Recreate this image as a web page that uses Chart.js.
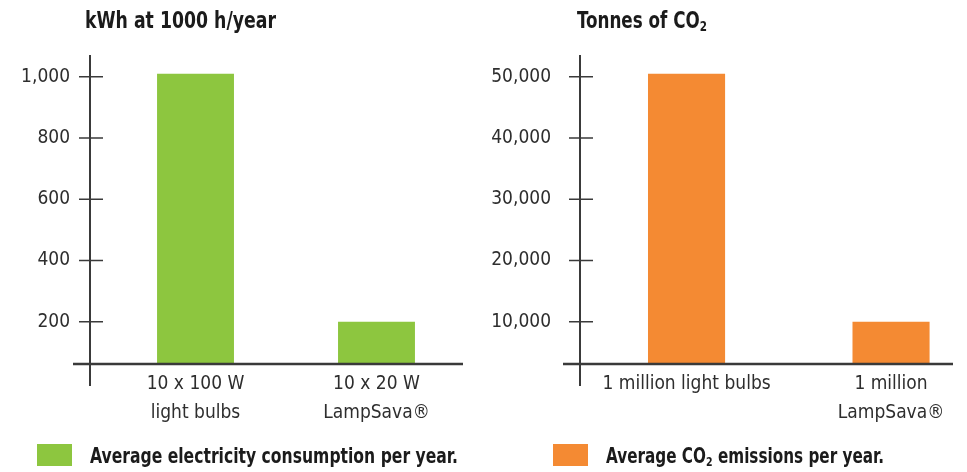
<!DOCTYPE html>
<html>
<head>
<meta charset="utf-8">
<script src="https://cdn.jsdelivr.net/npm/chart.js@4.4.1/dist/chart.umd.min.js"></script>
<style>
  html, body { margin: 0; padding: 0; background: #ffffff; }
  body { width: 967px; height: 472px; position: relative; overflow: hidden;
         font-family: "DejaVu Sans Condensed", "DejaVu Sans", sans-serif; }
  .panel { position: absolute; top: 0; height: 472px; }
  #leftPanel { left: 0; width: 480px; }
  #rightPanel { left: 480px; width: 487px; }
  .fit { position: absolute; font-weight: bold; line-height: 1; color: #1b1b1b; white-space: nowrap; transform-origin: 0 0; }
  .title { top: 9px; font-size: 23px; }
  .ltxt { top: 446px; font-size: 21px; }
  .swatch { position: absolute; top: 444px; width: 35px; height: 22px; }
  sub { font-size: 0.62em; vertical-align: -0.22em; line-height: 0; }
</style>
</head>
<body>
<div class="panel" id="leftPanel"><canvas id="kwhChart" width="480" height="472"></canvas></div>
<div class="panel" id="rightPanel"><canvas id="co2Chart" width="487" height="472"></canvas></div>

<div class="fit title" style="left:85px" data-w="191">kWh at 1000 h/year</div>
<div class="fit title" style="left:577px" data-w="130">Tonnes of CO<sub>2</sub></div>

<div class="swatch" style="left:37px; background:#8dc63f"></div>
<div class="fit ltxt" style="left:90px" data-w="368">Average electricity consumption per year.</div>
<div class="swatch" style="left:553px; background:#f48a33"></div>
<div class="fit ltxt" style="left:606px" data-w="278">Average CO<sub>2</sub> emissions per year.</div>

<script>
// ---- Data ----
const kwhCategories = [['10 x 100 W', 'light bulbs'], ['10 x 20 W', 'LampSava®']];
const kwhValues = [1010, 200];
const kwhTicks = [200, 400, 600, 800, 1000];

const co2Categories = [['1 million light bulbs'], ['1 million', 'LampSava®']];
const co2Values = [50500, 10000];
const co2Ticks = [10000, 20000, 30000, 40000, 50000];

// condense the HTML title/legend text to the reference widths
document.querySelectorAll('.fit').forEach(el => {
  const w = el.getBoundingClientRect().width;
  el.style.transform = 'scaleX(' + (Number(el.dataset.w) / w) + ')';
});

const FONT = '"DejaVu Sans Condensed", "DejaVu Sans", sans-serif';
const AXIS_COLOR = '#3a3a3a';
const TEXT_COLOR = '#2e2e2e';

// Axis lines that cross each other, with ticks crossing the y axis
const crossAxes = {
  id: 'crossAxes',
  afterDatasetsDraw(chart, args, o) {
    const { ctx, chartArea: { left, right, top, bottom }, scales: { y } } = chart;
    ctx.save();
    ctx.strokeStyle = AXIS_COLOR;
    // x axis
    ctx.lineWidth = 2.5;
    ctx.beginPath();
    ctx.moveTo(left - o.overX, bottom); ctx.lineTo(right, bottom);
    ctx.stroke();
    // y axis
    ctx.lineWidth = 2;
    ctx.beginPath();
    ctx.moveTo(left, top); ctx.lineTo(left, bottom + o.overY);
    ctx.stroke();
    // crossing tick marks
    ctx.lineWidth = 1.6;
    ctx.beginPath();
    y.ticks.forEach((t, i) => {
      const py = y.getPixelForTick(i);
      ctx.moveTo(left - o.tickOut, py); ctx.lineTo(left + o.tickIn, py);
    });
    ctx.stroke();
    ctx.restore();
  }
};

function makeChart(id, cats, vals, ticks, color, cfg) {
  return new Chart(document.getElementById(id), {
    type: 'bar',
    data: {
      datasets: [{
        data: cats.map((c, i) => ({ x: i + 1, y: vals[i] })),
        backgroundColor: color,
        borderWidth: 0,
        categoryPercentage: 1,
        barPercentage: cfg.barPct
      }]
    },
    options: {
      responsive: false,
      animation: false,
      layout: { padding: { top: 55, right: cfg.padRight, bottom: 0, left: 0 } },
      plugins: {
        legend: { display: false },
        tooltip: { enabled: false },
        crossAxes: { overX: 17, overY: 22, tickOut: 11, tickIn: 13 }
      },
      scales: {
        x: {
          type: 'linear',
          offset: false,
          min: cfg.xMin, max: cfg.xMax,
          grid: { display: false, drawTicks: false },
          border: { display: false },
          afterBuildTicks: s => { s.ticks = cats.map((c, i) => ({ value: i + 1 })); },
          afterFit: s => { s.height = 108; },
          ticks: {
            autoSkip: false, maxRotation: 0,
            padding: 5.5,
            color: TEXT_COLOR,
            font: { family: FONT, size: 19, lineHeight: 1.526 },
            callback: v => cats[v - 1]
          }
        },
        y: {
          min: cfg.yMin, max: cfg.yMax,
          grid: { display: false, drawTicks: false },
          border: { display: false },
          afterBuildTicks: s => { s.ticks = ticks.map(v => ({ value: v })); },
          afterFit: s => { s.width = cfg.yWidth; },
          ticks: {
            padding: cfg.yPad,
            color: TEXT_COLOR,
            font: { family: FONT, size: 19 },
            callback: v => v.toLocaleString('en-US')
          }
        }
      }
    },
    plugins: [crossAxes]
  });
}

makeChart('kwhChart', kwhCategories, kwhValues, kwhTicks, '#8dc63f',
  { barPct: 0.425, xMin: 0.417, xMax: 2.478, yMin: 62, yMax: 1071, yWidth: 90, yPad: 20, padRight: 17 });
makeChart('co2Chart', co2Categories, co2Values, co2Ticks, '#f48a33',
  { barPct: 0.377, xMin: 0.479, xMax: 2.303, yMin: 3100, yMax: 53550, yWidth: 100, yPad: 29, padRight: 14 });
</script>
</body>
</html>
